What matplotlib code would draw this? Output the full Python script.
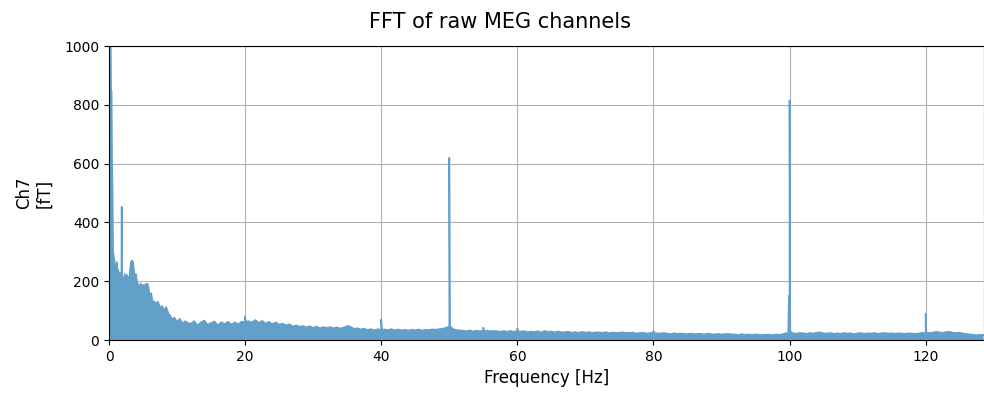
import numpy as np
import matplotlib
matplotlib.use('Agg')
import matplotlib.pyplot as plt

# low-frequency part of the spectrum (Hz, fT)
lf_freqs = [0.0, 0.08, 0.15, 0.22, 0.3, 0.38, 0.45, 0.52, 0.6, 0.7,
            0.8, 0.9, 1.0, 1.05, 1.15, 1.25, 1.35, 1.45, 1.55, 1.65,
            1.75, 1.82, 1.86, 1.9, 2.0, 2.15, 2.3, 2.45, 2.6, 2.75,
            2.9, 3.05, 3.2, 3.35, 3.5, 3.65, 3.8, 3.95, 4.1, 4.3,
            4.5, 4.7, 4.9, 5.1, 5.3, 5.5, 5.7, 5.85, 6.0, 6.2,
            6.4, 6.6, 6.9, 7.2, 7.5, 7.8, 8.1, 8.4, 8.7, 9.0,
            9.3, 9.6, 10.0, 10.4, 10.8, 11.2, 11.6]
lf_vals = [90, 1400, 1300, 1100, 850, 845, 600, 510, 300, 285,
           270, 250, 180, 240, 265, 200, 240, 175, 230, 205,
           185, 175, 453, 180, 215, 185, 225, 195, 222, 215,
           185, 228, 262, 270, 268, 240, 205, 225, 200, 188,
           185, 192, 180, 188, 185, 192, 190, 172, 142, 160,
           128, 132, 125, 130, 108, 116, 100, 112, 92, 82,
           70, 76, 62, 72, 56, 64, 58]

# broadband floor, 0.5 Hz bins from 12 Hz to 128.5 Hz
bb_start = 12.0
bb_step = 0.5
bb_vals = [55, 64, 50, 60, 66, 52, 58, 63, 50, 61,
           54, 62, 52, 60, 53, 63, 57, 64, 60, 68,
           58, 65, 56, 62, 54, 60, 52, 56, 50, 54,
           46, 50, 45, 48, 43, 47, 41, 46, 40, 44,
           41, 44, 40, 43, 39, 42, 48, 45, 38, 40,
           36, 39, 34, 37, 33, 37, 33, 36, 34, 37,
           33, 36, 33, 35, 32, 35, 33, 36, 32, 35,
           34, 36, 35, 37, 38, 42, 45, 38, 34, 33,
           32, 30, 33, 29, 32, 30, 29, 32, 30, 31,
           30, 28, 31, 28, 31, 28, 32, 29, 30, 27,
           29, 27, 30, 26, 31, 28, 29, 26, 29, 26,
           27, 28, 25, 27, 24, 28, 25, 27, 24, 26,
           26, 24, 27, 23, 26, 24, 25, 26, 24, 25,
           25, 22, 24, 25, 22, 24, 26, 23, 22, 24,
           22, 20, 23, 21, 22, 21, 20, 22, 20, 21,
           21, 19, 22, 20, 19, 21, 19, 20, 21, 19,
           19, 17, 20, 18, 19, 17, 19, 18, 17, 18,
           18, 17, 19, 17, 20, 24, 26, 23, 22, 24,
           23, 21, 24, 22, 25, 26, 23, 22, 24, 21,
           23, 21, 24, 22, 23, 20, 23, 24, 21, 23,
           22, 24, 21, 23, 24, 22, 23, 21, 23, 22,
           21, 23, 22, 21, 22, 25, 26, 24, 25, 28,
           26, 24, 27, 28, 25, 24, 25, 22, 21, 19,
           18, 16, 18, 17]

# narrow line peaks (mains 50 Hz and harmonics etc.)
peak_freqs = [19.9, 20.0, 20.1, 39.9, 40.0, 40.1, 49.9, 50.0, 50.1,
              54.9, 55.0, 55.1, 59.9, 60.0, 60.1, 79.9, 80.0, 80.1,
              99.8, 99.9, 100.0, 100.1, 119.9, 120.0, 120.1]
peak_vals = [60, 80, 62, 35, 70, 35, 45, 620, 48,
             31, 42, 30, 30, 40, 29, 24, 31, 23,
             18, 150, 815, 30, 22, 90, 25]

bb_freqs = bb_start + bb_step * np.arange(len(bb_vals))
freqs = np.concatenate([lf_freqs, bb_freqs, peak_freqs])
amps = np.concatenate([lf_vals, bb_vals, peak_vals])
order = np.argsort(freqs, kind='stable')
freqs = freqs[order]
amps = amps[order]

color = '#62a0ca'

fig = plt.figure(figsize=(9.84, 3.94), dpi=100)
ax = fig.add_axes([0.1108, 0.137, 0.8887, 0.7462])
ax.fill_between(freqs, 0, amps, color=color, lw=0, zorder=2)
ax.plot(freqs, amps, color=color, lw=1.2, zorder=2)

ax.set_xlim(0, 128.5)
ax.set_ylim(0, 1000)
ax.set_xticks([0, 20, 40, 60, 80, 100, 120])
ax.set_yticks([0, 200, 400, 600, 800, 1000])
ax.grid(True)
ax.set_xlabel('Frequency [Hz]', fontsize=12)
ax.set_ylabel('Ch7\n[fT]', fontsize=12, labelpad=7.5)
fig.suptitle('FFT of raw MEG channels', fontsize=15, x=0.508, y=0.97)

fig.savefig('out.png', dpi=100)
